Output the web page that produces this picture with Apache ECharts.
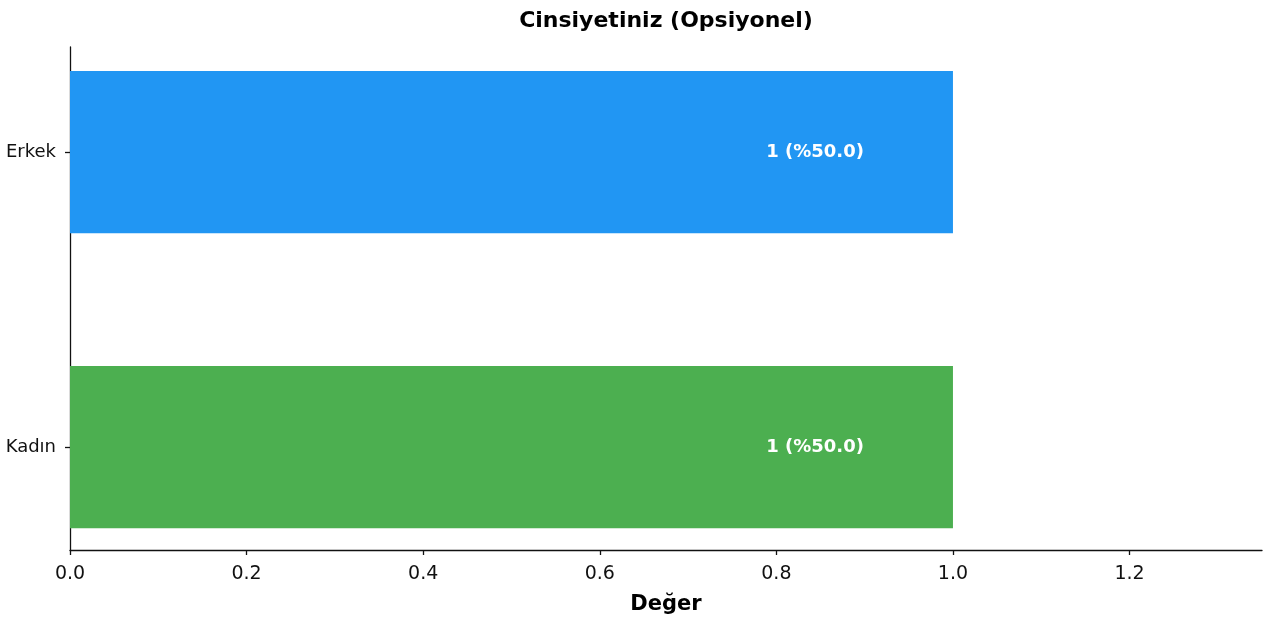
<!DOCTYPE html>
<html>
<head>
<meta charset="utf-8">
<script src="https://cdn.jsdelivr.net/npm/echarts@6/dist/echarts.min.js"></script>
<style>html,body{margin:0;padding:0;background:#fff}#c{width:1269px;height:628px}</style>
</head>
<body>
<div id="c"></div>
<script>
const categories = ['Kadın', 'Erkek'];
const values = [1, 1];
const labels = ['1 (%50.0)', '1 (%50.0)'];
const colors = ['#4CAF50', '#2196F3'];
const xTicks = [0, 0.2, 0.4, 0.6, 0.8, 1.0, 1.2];
const titleText = 'Cinsiyetiniz (Opsiyonel)';
const xName = 'Değer';

const FONT = 'DejaVu Sans';
const chart = echarts.init(document.getElementById('c'), null, {renderer: 'canvas'});
const data = values.map((v, i) => [v, i, labels[i], colors[i]]);

chart.setOption({
  animation: false,
  title: {
    text: titleText, left: 661, top: 5, textAlign: 'center',
    textStyle: {fontFamily: FONT, fontSize: 22, fontWeight: 'bold', color: '#000'}
  },
  grid: {left: 70, right: 7, top: 47, bottom: 78},
  xAxis: {
    type: 'value', min: 0, max: 1.35,
    name: xName, nameLocation: 'middle', nameGap: 44,
    nameTextStyle: {fontFamily: FONT, fontSize: 21, fontWeight: 'bold', color: '#000'},
    axisLine: {show: true, onZero: false, lineStyle: {color: '#111', width: 1.3}},
    axisTick: {show: true, length: 5, lineStyle: {color: '#111', width: 1.3}, customValues: xTicks},
    axisLabel: {fontFamily: FONT, fontSize: 19, color: '#111', margin: 15,
      customValues: xTicks, formatter: v => v.toFixed(1)},
    splitLine: {show: false}
  },
  yAxis: {
    type: 'value', min: -0.349, max: 1.356,
    axisLine: {show: true, onZero: false, lineStyle: {color: '#111', width: 1.3}},
    axisTick: {show: true, length: 5, lineStyle: {color: '#111', width: 1.3}, customValues: categories.map((c, i) => i)},
    axisLabel: {fontFamily: FONT, fontSize: 18, color: '#111', margin: 14,
      customValues: categories.map((c, i) => i), formatter: v => categories[Math.round(v)]},
    splitLine: {show: false}
  },
  series: [{
    type: 'custom',
    data: data,
    encode: {x: 0, y: 1},
    renderItem: function (params, api) {
      const idx = api.value(1);
      const start = api.coord([0, idx]);
      const end = api.coord([api.value(0), idx]);
      const h = api.size([0, 0.55])[1];
      const item = data[params.dataIndex];
      return {
        type: 'rect',
        shape: {x: start[0], y: start[1] - h / 2, width: end[0] - start[0], height: h},
        style: {fill: item[3]},
        textContent: {
          style: {text: item[2], fill: '#fff', fontFamily: FONT, fontSize: 18, fontWeight: 'bold'}
        },
        textConfig: {position: 'insideRight', distance: 89}
      };
    }
  }]
});
</script>
</body>
</html>
